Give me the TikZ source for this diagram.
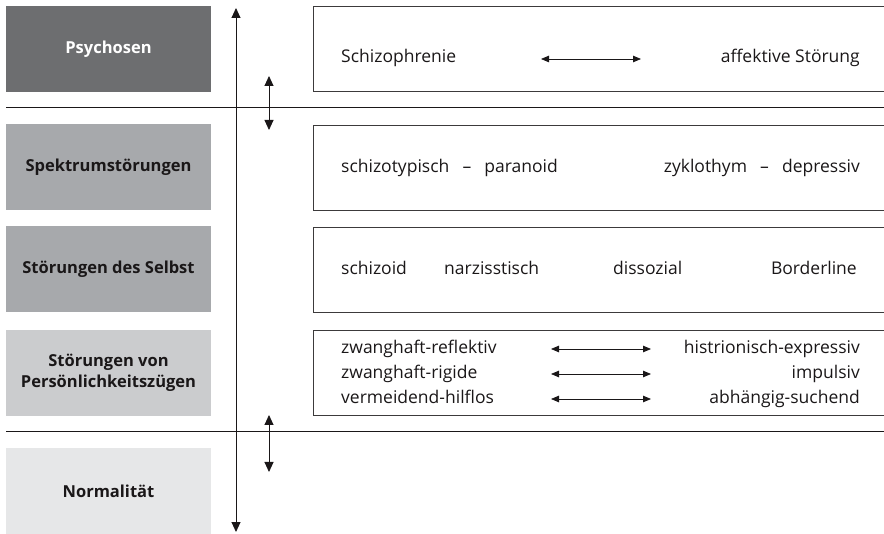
\documentclass[tikz,border=0pt]{standalone}
\usepackage{fontspec}
\setmainfont{Open Sans}
\usetikzlibrary{arrows.meta,positioning}

\definecolor{darkgrey}{HTML}{6D6E70}
\definecolor{midgrey}{HTML}{A7A9AC}
\definecolor{lightgrey}{HTML}{CBCCCE}
\definecolor{palegrey}{HTML}{E6E7E8}
\definecolor{inkblack}{HTML}{1A1718}

\begin{document}
\begin{tikzpicture}[x=1pt, y=-1pt, node distance=102pt,
                    level box/.style={minimum width=205pt, minimum height=86pt, inner sep=0pt, align=center,
                                      text=inkblack, font=\bfseries\fontsize{16.5}{20}\selectfont},
                    info box/.style={draw=inkblack!85, line width=0.9pt, minimum width=580pt, minimum height=85pt, inner sep=0pt},
                    info text/.style={inner sep=0pt, text=inkblack, font=\fontsize{17.5}{20}\selectfont},
                    scale arrow/.style={draw=inkblack, line width=0.9pt, {Triangle[length=10pt,width=9pt]}-{Triangle[length=10pt,width=9pt]}},
                    pair arrow/.style={draw=inkblack, line width=0.8pt, {Triangle[length=8pt,width=6.5pt]}-{Triangle[length=8pt,width=6.5pt]}}]

  \clip (0,0) rectangle (884,534);

  % levels
  \node[level box, fill=darkgrey, text=white] (psy) at (108.5,49) {Psychosen};
  \node[level box, fill=midgrey] (spek) at (108.5,167.5) {Spektrumstörungen};
  \node[level box, fill=midgrey] (selbst) at (108.5,269.5) {Störungen des Selbst};
  \node[level box, fill=lightgrey, font=\bfseries\fontsize{16.5}{20.5}\selectfont] (zuege) at (108.5,373) {Störungen von\\Persönlichkeitszügen};
  \node[level box, fill=palegrey] (normal) at (108.5,491.5) {Normalität};

  \node[info box] (psybox) [right=of psy] {};
  \node[info box] (spekbox) [right=of spek] {};
  \node[info box] (selbstbox) [right=of selbst] {};
  \node[info box] (zuegebox) [right=of zuege] {};

  % Psychosen
  \node[info text, anchor=base west] (schizo) at (341,63) {Schizophrenie};
  \node[info text, anchor=base east] (affekt) at (860,63) {affektive Störung};
  \coordinate (p1) at (541,59);
  \coordinate (p2) at (641,59);

  % Spektrum
  \node[info text, anchor=base west] (schizotyp) at (341,173) {schizotypisch\hspace{0.75em}–\hspace{0.75em}paranoid};
  \node[info text, anchor=base east] (zyklo) at (860,173) {zyklothym\hspace{0.75em}–\hspace{0.75em}depressiv};

  % Selbst
  \node[info text, anchor=base west] (schizoid) at (341,275) {schizoid};
  \node[info text, anchor=base west] (narz) at (444,275) {narzisstisch};
  \node[info text, anchor=base west] (dissoz) at (613,275) {dissozial};
  \node[info text, anchor=base east] (border) at (857,275) {Borderline};

  % Zuege
  \node[info text, anchor=base west] (reflekt) at (341,354) {zwanghaft-reflektiv};
  \node[info text, anchor=base west] (rigide) at (341,379) {zwanghaft-rigide};
  \node[info text, anchor=base west] (hilflos) at (341,404) {vermeidend-hilflos};
  \node[info text, anchor=base east] (histrio) at (860,354) {histrionisch-expressiv};
  \node[info text, anchor=base east] (impuls) at (860,379) {impulsiv};
  \node[info text, anchor=base east] (abhaeng) at (860,404) {abhängig-suchend};
  \coordinate (z1) at (551,349);  \coordinate (z2) at (651,349);
  \coordinate (z3) at (551,374);  \coordinate (z4) at (651,374);
  \coordinate (z5) at (551,399);  \coordinate (z6) at (651,399);

  % axis and borders
  \coordinate (top) at (236,8);
  \coordinate (bottom) at (236,532);
  \coordinate (upA) at (269,76);
  \coordinate (upB) at (269,130);
  \coordinate (lowA) at (269,415);
  \coordinate (lowB) at (269,472);
  \coordinate (lineA) at (6,108);
  \coordinate (lineB) at (884,108);
  \coordinate (lineC) at (6,432);
  \coordinate (lineD) at (884,432);

  \draw[inkblack, line width=1pt] (lineA) -- (lineB);
  \draw[inkblack, line width=1pt] (lineC) -- (lineD);

  \draw[scale arrow] (top) -- (bottom);
  \draw[scale arrow] (upA) -- (upB);
  \draw[scale arrow] (lowA) -- (lowB);

  \draw[pair arrow] (p1) -- (p2);
  \draw[pair arrow] (z1) -- (z2);
  \draw[pair arrow] (z3) -- (z4);
  \draw[pair arrow] (z5) -- (z6);

\end{tikzpicture}
\end{document}
